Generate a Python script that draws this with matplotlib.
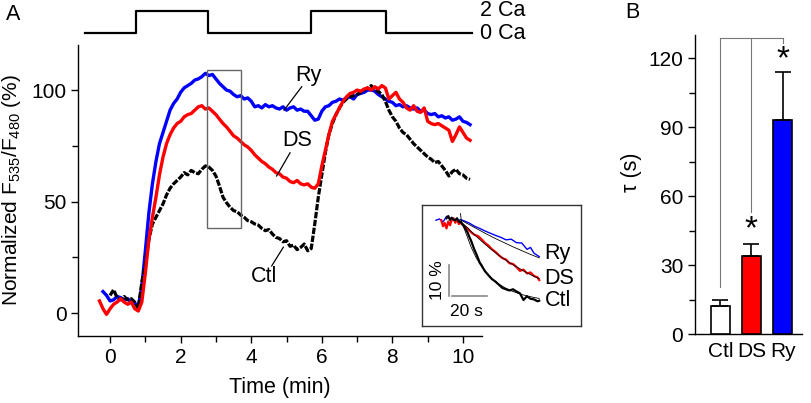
import numpy as np
import matplotlib
matplotlib.use("Agg")
import matplotlib.pyplot as plt
from matplotlib.patches import Rectangle

plt.rcParams['font.family'] = ['Liberation Sans', 'DejaVu Sans']
plt.rcParams['mathtext.fontset'] = 'custom'
plt.rcParams['mathtext.rm'] = 'Liberation Sans'
plt.rcParams['mathtext.it'] = 'Liberation Sans:italic'
plt.rcParams['axes.linewidth'] = 1.0

# ---------------- data: panel A ----------------
time_min = [-0.3, -0.2, -0.1, 0.0, 0.1, 0.2, 0.3, 0.4, 0.5, 0.6, 0.7, 0.8, 0.9,
            1.0, 1.1, 1.2, 1.3, 1.4, 1.5, 1.6, 1.7, 1.8, 1.9,
            2.0, 2.1, 2.2, 2.3, 2.4, 2.5, 2.6, 2.7, 2.8, 2.9,
            3.0, 3.1, 3.2, 3.3, 3.4, 3.5, 3.6, 3.7, 3.8, 3.9,
            4.0, 4.1, 4.2, 4.3, 4.4, 4.5, 4.6, 4.7, 4.8, 4.9,
            5.0, 5.1, 5.2, 5.3, 5.4, 5.5, 5.6, 5.7, 5.8, 5.9,
            6.0, 6.1, 6.2, 6.3, 6.4, 6.5, 6.6, 6.7, 6.8, 6.9,
            7.0, 7.1, 7.2, 7.3, 7.4, 7.5, 7.6, 7.7, 7.8, 7.9,
            8.0, 8.1, 8.2, 8.3, 8.4, 8.5, 8.6, 8.7, 8.8, 8.9,
            9.0, 9.1, 9.2, 9.3, 9.4, 9.5, 9.6, 9.7, 9.8, 9.9,
            10.0, 10.1, 10.2]

ry = [np.nan, 9.7, 8.0, 5.5, 6.0, 7.5, 7.0, 6.0, 6.5, 5.0, 4.5, 3.0, 12,
      28, 45, 58, 68, 76, 81, 86, 91, 94, 96,
      99, 101, 102, 103, 104.5, 105, 106, 107.5, 106.5, 107,
      105, 103, 101.5, 100, 99.5, 98, 97, 97.5, 96, 96.5,
      95, 92.5, 93, 92, 93.5, 92.5, 93, 92, 91.5, 92.5,
      91, 92, 92.5, 91, 91.5, 90.5, 90.5, 88.5, 86.5, 87,
      90.5, 92.5, 93, 94.5, 95, 96, 95.5, 96.5, 97, 96,
      98, 98.5, 99, 100, 100, 99.5, 98, 97, 96, 95,
      94.5, 93, 93.5, 92.5, 93, 92, 91.5, 92, 90.5, 91,
      89.5, 89, 89.5, 88, 88.5, 87.5, 88, 86.5, 87, 88,
      86, 85.5, 84.5]

ds = [5.5, 2.0, -0.5, 2.0, 4.0, 5.0, 6.5, 5.0, 4.0, 5.0, 2.0, 1.0, 5.0,
      18, 33, 43, 52, 62, 70, 76, 80, 83, 85,
      86, 88, 89, 89.5, 91, 92.5, 93, 91.5, 92, 90.5,
      89, 87, 85, 83.5, 81.5, 79.5, 78.5, 77, 75.5, 74.5,
      73, 71, 69.5, 68, 67, 65.5, 64.5, 63, 62.5, 61,
      60.5, 59, 58.5, 59.5, 58, 57.5, 58, 56.5, 56, 58,
      66, 73, 80, 86, 89, 92, 95, 97, 98.5, 99,
      100, 99.5, 100.5, 101, 100, 101.5, 100.5, 102, 101, 96,
      97.5, 99, 96, 94.5, 92, 91, 93, 90.5, 90, 92,
      86, 85, 84.5, 85, 84, 83, 82, 77, 80, 83.5,
      81, 78.5, 77.5]

ctl = [np.nan, np.nan, np.nan, 8.0, 10.5, 7.0, 6.0, 7.5, 6.0, 6.5, 5.0, 2.0, 14,
       22, 33, 40, 43, 46, 49, 53, 56, 58, 59.5,
       61, 63, 62, 64, 63, 62.5, 64.5, 66, 65.5, 64,
       61.5, 57, 52, 49.5, 47.5, 46, 45.5, 44, 43, 41.5,
       41, 40, 39.5, 38, 37, 37.5, 35.5, 34, 33.5, 32,
       32.5, 30, 30.5, 28.5, 29.5, 31, 28, 29, 40, 52,
       62, 72, 80, 85, 89, 92, 94.5, 96, 97, 97.5,
       98, 99, 100, 101, 102, 100, 99.5, 98, 95, 91,
       88, 86, 83, 81, 80, 78, 76, 74.5, 73, 71.5,
       70, 69, 67.5, 68, 66, 64, 61.5, 63.5, 64.5, 62.5,
       62, 60.5, 60]

# Ca protocol (min, level)
ca_time = [-0.71, 0.73, 2.77, 5.69, 7.81, 10.25]
ca_level = [0, 2, 0, 2, 0]

# ---------------- data: inset (s, %) ----------------
in_ry_t = [8, 10, 12, 14, 16, 18, 20, 22, 24, 27, 30, 33, 36, 39, 42, 45, 48, 51, 54, 57, 60, 62, 64, 67]
in_ry_v = [33.4, 33.8, 32.8, 34.6, 34, 33.5, 33, 33.6, 33.2, 32.5, 31.5, 30.8, 30, 29.3, 28.6, 28,
           27.2, 27.4, 26.3, 26.2, 24.2, 24.8, 23, 21.9]
in_ds_t = [11, 12, 13, 14, 15, 16, 17, 18, 19, 20, 21, 22, 24, 26, 28, 30, 32, 34, 36, 38, 40, 42,
           44, 46, 48, 50, 52, 54, 56, 58, 60, 62, 64, 66, 67]
in_ds_v = [33.4, 31.5, 32.5, 30.8, 33, 31.8, 33.5, 34, 32.6, 33.8, 32.2, 32.6, 31.6, 30.8, 29.6,
           28.8, 28.4, 27.4, 26.2, 25.4, 24.2, 23.4, 22.3, 21.4, 21, 19.8, 19.6, 18.6, 17.4, 17.8,
           16.6, 16.9, 15.8, 15.4, 14.5]
in_ctl_t = [14, 15, 16, 17, 18, 19, 20, 21, 22, 23, 24, 25, 26, 27, 28, 29, 30, 31, 32, 33, 34, 35,
            36, 38, 40, 42, 44, 46, 48, 50, 52, 54, 56, 58, 60, 62, 64, 66, 67]
in_ctl_v = [34, 34.7, 33.5, 34.2, 33.6, 33.4, 34, 33, 32.8, 32.2, 31.5, 30.5, 29.6, 28.2, 27, 25.5,
            24, 22.8, 21.4, 20, 19.2, 18.2, 17.3, 16, 14.8, 14, 13, 12, 11.6, 11.2, 11.6, 10.9,
            10.3, 8.2, 9.4, 8.6, 8.4, 7.8, 8]
fit_ctl_t = [22, 22.5, 25, 28, 31, 34, 37, 40, 44, 48, 52, 56, 60, 64, 67]
fit_ctl_v = [35.5, 33.0, 29.5, 25, 21.5, 18.8, 16.6, 14.9, 13.2, 11.9, 10.9, 10.1, 9.5, 9, 8.7]
fit_ds_t = [22, 26, 30, 34, 38, 42, 46, 50, 54, 58, 62, 67]
fit_ds_v = [33, 31, 28.8, 26.8, 24.9, 23.1, 21.5, 20, 18.7, 17.4, 16.2, 14.9]
fit_ry_t = [22, 27, 32, 37, 42, 47, 52, 57, 62, 67]
fit_ry_v = [33.5, 32, 30.5, 29, 27.6, 26.3, 25, 23.8, 22.6, 21.5]

# ---------------- data: panel B ----------------
groups = ['Ctl', 'DS', 'Ry']
tau = [12, 34, 93]
tau_err = [3, 5, 21]
bar_colors = ['white', '#ff0000', '#0000ff']

BLUE = '#0000ff'
RED = '#ff0000'
FS = 15
LFS = 15.5

fig = plt.figure(figsize=(8.12, 4.03), dpi=100)
W, H = 812.0, 403.0

def px_axes(x0, y0, x1, y1):
    return fig.add_axes([x0 / W, 1 - y1 / H, (x1 - x0) / W, (y1 - y0) / H])

# main axes
ax = px_axes(78.3, 45, 481.7, 336)
ax.plot(time_min, ry, color=BLUE, lw=2.4, solid_joinstyle='round', zorder=3)
ax.plot(time_min, ctl, color='black', lw=2.3, linestyle=(0, (2.0, 0.5)), zorder=4)
ax.plot(time_min, ds, color=RED, lw=2.4, solid_joinstyle='round', zorder=5)
ax.set_xlim(-0.9, 10.53)
ax.set_ylim(-10.2, 120.2)
ax.set_xticks([0, 2, 4, 6, 8, 10])
ax.set_xticks([1, 3, 5, 7, 9], minor=True)
ax.set_yticks([0, 50, 100])
ax.set_yticks([25, 75], minor=True)
for s in ['top', 'right']:
    ax.spines[s].set_visible(False)
ax.tick_params(axis='both', which='major', direction='out', length=5, width=1, labelsize=FS)
ax.tick_params(axis='both', which='minor', direction='out', length=4, width=1)
ax.set_xlabel('Time (min)', fontsize=LFS)
ax.xaxis.set_label_coords(0.5, -0.14)
ax.set_ylabel(r'Normalized F$_{\mathrm{535}}$/F$_{\mathrm{480}}$ (%)', fontsize=15)
ax.yaxis.set_label_coords(-0.138, 0.5)
ax.add_patch(Rectangle((2.75, 38.3), 0.97, 70.7, fill=False, edgecolor='#666666', lw=1.0, zorder=6))
# labels with leader lines
ax.text(5.61, 106.7, 'Ry', fontsize=LFS, ha='center', va='center')
ax.plot([5.43, 4.93], [101.5, 91], color='black', lw=0.9, zorder=6)
ax.text(5.29, 77.4, 'DS', fontsize=LFS, ha='center', va='center')
ax.plot([5.1, 4.72], [71.9, 61.5], color='black', lw=0.9, zorder=6)
ax.text(4.36, 16.3, 'Ctl', fontsize=LFS, ha='center', va='center')
ax.plot([4.58, 4.91], [21.2, 29.6], color='black', lw=0.9, zorder=6)

# protocol axes
axp = px_axes(78.3, 5, 481.7, 40)
axp.set_xlim(-0.9, 10.53)
axp.set_ylim(-0.593, 2.504)
axp.step(ca_time, ca_level + [ca_level[-1]], where='post', color='black', lw=1.6)
axp.axis('off')
axp.text(10.48, 2, '2 Ca', fontsize=LFS, ha='left', va='center')
axp.text(10.48, 0, '0 Ca', fontsize=LFS, ha='left', va='center')

# inset
axi = px_axes(422, 205, 580.7, 326)
axi.set_xlim(0, 90.7)
axi.set_ylim(0, 38.2)
axi.set_xticks([])
axi.set_yticks([])
for s in axi.spines.values():
    s.set_linewidth(1.0)
    s.set_color('#333333')
axi.plot(in_ry_t, in_ry_v, color=BLUE, lw=1.0)
axi.plot(in_ds_t, in_ds_v, color=RED, lw=1.6)
axi.plot(in_ctl_t, in_ctl_v, color='black', lw=1.6)
for ft, fv in [(fit_ry_t, fit_ry_v), (fit_ds_t, fit_ds_v), (fit_ctl_t, fit_ctl_v)]:
    axi.plot(ft, fv, color='black', lw=0.6)
axi.plot([15.4, 15.4], [9.5, 19.3], color='#888888', lw=1.2)
axi.plot([17, 37], [9.5, 9.5], color='#888888', lw=1.2)
axi.text(8.6, 14.6, '10 %', fontsize=12.5, rotation=90, ha='center', va='center')
axi.text(25.5, 4.6, '20 s', fontsize=12.5, ha='center', va='center')
axi.text(70.0, 23.0, 'Ry', fontsize=LFS, ha='left', va='center')
axi.text(70.0, 15.1, 'DS', fontsize=LFS, ha='left', va='center')
axi.text(70.0, 8.2, 'Ctl', fontsize=LFS, ha='left', va='center')

# panel B
axb = px_axes(695, 35, 801.7, 334)
xpos = np.arange(len(groups))
axb.bar(xpos, tau, width=0.62, color=bar_colors, edgecolor='black', lw=1.2, zorder=3)
axb.errorbar(xpos, tau, yerr=[[0, 0, 0], tau_err], fmt='none', ecolor='black',
             elinewidth=1.2, capsize=6, capthick=1.2, zorder=4)
axb.set_xlim(-0.81, 2.61)
axb.set_ylim(0, 130.2)
axb.set_yticks([0, 30, 60, 90, 120])
axb.set_yticks([15, 45, 75, 105], minor=True)
axb.set_xticks(xpos)
axb.set_xticklabels(groups)
for s in ['top', 'right']:
    axb.spines[s].set_visible(False)
axb.tick_params(axis='y', which='major', direction='out', length=5, width=1, labelsize=FS)
axb.tick_params(axis='y', which='minor', direction='out', length=4, width=1)
axb.tick_params(axis='x', length=0, labelsize=FS, pad=6)
axb.set_ylabel('τ (s)', fontsize=LFS)
axb.yaxis.set_label_coords(-0.5, 0.54)
# significance bracket
gc = '#777777'
axb.plot([0, 2], [129, 129], color=gc, lw=0.8, clip_on=False)
axb.plot([0, 0], [129, 20.6], color=gc, lw=0.8, clip_on=False)
axb.plot([1, 1], [129, 53], color=gc, lw=0.8, clip_on=False)
axb.plot([2, 2], [129, 126.5], color=gc, lw=0.8, clip_on=False)
axb.text(1, 45.3, '*', fontsize=24, ha='center', va='center')
axb.text(2, 119.5, '*', fontsize=24, ha='center', va='center')

fig.text(6 / W, 1 - 14 / H, 'A', fontsize=LFS, ha='left', va='center')
fig.text(625 / W, 1 - 12 / H, 'B', fontsize=LFS, ha='left', va='center')

fig.savefig('out.png', dpi=100)
